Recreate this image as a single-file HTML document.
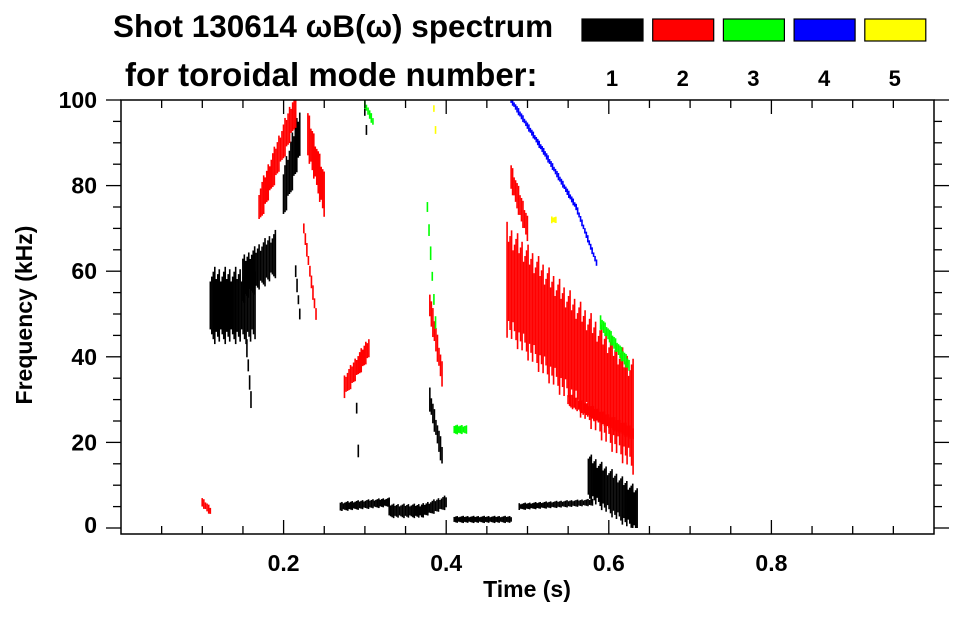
<!DOCTYPE html>
<html><head><meta charset="utf-8"><style>
body{margin:0;background:#fff}
svg text{font-family:"Liberation Sans",sans-serif;font-weight:bold;fill:#000}
</style></head><body>
<svg id="chart" width="963" height="615" viewBox="0 0 963 615">
<text x="113" y="37" font-size="31.5">Shot 130614 ωB(ω) spectrum</text>
<text x="125" y="86" font-size="33">for toroidal mode number:</text>
<g id="legend"></g>
<g id="marks"></g>
<g id="axes"></g>
<text x="527" y="597" font-size="23" text-anchor="middle">Time (s)</text>
<text transform="translate(32,315) rotate(-90)" font-size="23" text-anchor="middle">Frequency (kHz)</text>
</svg>
<script>
const modeLabels=["1","2","3","4","5"];
const modeColors=["#000000","#ff0000","#00ff00","#0000ff","#ffff00"];
const xTicks=[0.2,0.4,0.6,0.8];
const yTicks=[0,20,40,60,80,100];
// features: mode, start time, start freq, end time, end freq, thickness (kHz)
const featMode=[1,1,1,1,1,1,1,1,1,1,1,1,1,1, 2,2,2,2,2,2,2,2,2, 3,3,3,3, 4,4,4, 5,5];
const featT0=[0.11,0.15,0.20,0.155,0.29,0.38,0.27,0.33,0.37,0.41,0.49,0.575,0.30,0.215,
 0.17,0.23,0.225,0.275,0.38,0.475,0.48,0.55,0.10,
 0.377,0.30,0.41,0.59, 0.48,0.52,0.56, 0.385,0.53];
const featF0=[52,58,78,42,28,30,5,4,4,2,5,12,98,60,
 75,92,70,33,52,58,82,30,6,
 75,99,23,48, 100,88,75, 98,72];
const featT1=[0.165,0.19,0.22,0.16,0.292,0.395,0.33,0.37,0.40,0.48,0.58,0.635,0.302,0.22,
 0.215,0.25,0.24,0.305,0.395,0.63,0.50,0.63,0.11,
 0.387,0.31,0.425,0.625, 0.52,0.56,0.585, 0.387,0.535];
const featF1=[52,64,92,30,18,17,6,4,6,2,6,4,93,50,
 98,78,50,42,36,26,70,22,4,
 48,95,23,38, 88,75,62, 93,72];
const featW=[16,10,12,4,3,5,2,3,3,1.5,1.5,10,3,3,
 8,10,3,5,6,24,6,3,2,
 3,2,2,3, 1.5,1.5,1.5, 2,1.5];
const X0=121,X1=934,Y100=100,Y0=528;
const xs=t=>X0+(X1-X0)*t;
const ys=f=>Y0-(Y0-Y100)*f/100;
const NS="http://www.w3.org/2000/svg";
function mk(tag,attrs,parent){const e=document.createElementNS(NS,tag);for(const k in attrs)e.setAttribute(k,attrs[k]);parent.appendChild(e);return e;}
const marks=document.getElementById('marks');
for(let i=0;i<featMode.length;i++){
  const c=modeColors[featMode[i]-1];
  const xa=xs(featT0[i]),xb=xs(featT1[i]);
  const n=Math.max(1,Math.round(Math.abs(xb-xa)/1.5));
  for(let j=0;j<=n;j++){
    const u=n?j/n:0;
    const t=featT0[i]+(featT1[i]-featT0[i])*u;
    const f=featF0[i]+(featF1[i]-featF0[i])*u;
    const jit=((j*37+i*11)%7)/7;
    const h=featW[i]*(0.7+0.5*jit);
    const y1=Math.max(ys(Math.min(100,f+h/2)),Y100);
    const y2=Math.min(ys(Math.max(0,f-h/2)),Y0);
    const r=mk('rect',{x:xs(t)-0.9,y:y1,width:1.6,height:Math.max(1,y2-y1),fill:c},marks);
    
    
  }
}
const axes=document.getElementById('axes');
const frame=mk('rect',{x:X0,y:Y100,width:X1-X0,height:534-Y100,fill:'none',stroke:'#000','stroke-width':1.5},axes);


for(let k=1;k<20;k++){const t=k*0.05,x=xs(t),maj=Math.abs(t*5-Math.round(t*5))<1e-6;const L=maj?14:8;
  mk('line',{x1:x,x2:x,y1:534,y2:534-L,stroke:'#000','stroke-width':1.3},axes);
  mk('line',{x1:x,x2:x,y1:Y100,y2:Y100+L,stroke:'#000','stroke-width':1.3},axes);}
for(let k=0;k<=20;k++){const f=k*5,y=ys(f),maj=k%4==0;const L=maj?15:8;
  mk('line',{x1:X0-L,x2:X0,y1:y,y2:y,stroke:'#000','stroke-width':1.3},axes);
  mk('line',{x1:X1,x2:X1+L,y1:y,y2:y,stroke:'#000','stroke-width':1.3},axes);}
xTicks.forEach(t=>{const e=mk('text',{x:xs(t),y:571,'font-size':23,'text-anchor':'middle'},axes);e.textContent=t.toFixed(1);
  
  });
yTicks.forEach(f=>{const e=mk('text',{x:97,y:Math.min(ys(f)+8,533),'font-size':23,'text-anchor':'end'},axes);e.textContent=f;
  
  });
const legend=document.getElementById('legend');
modeLabels.forEach((m,i)=>{const x=582+i*70.7;
  const r=mk('rect',{x:x,y:19,width:61,height:22,fill:modeColors[i],stroke:'#000','stroke-width':1.2},legend);
  
  
  const t=mk('text',{x:x+30,y:86,'font-size':22,'text-anchor':'middle'},legend);t.textContent=m;
  
  });
</script>
</body></html>
